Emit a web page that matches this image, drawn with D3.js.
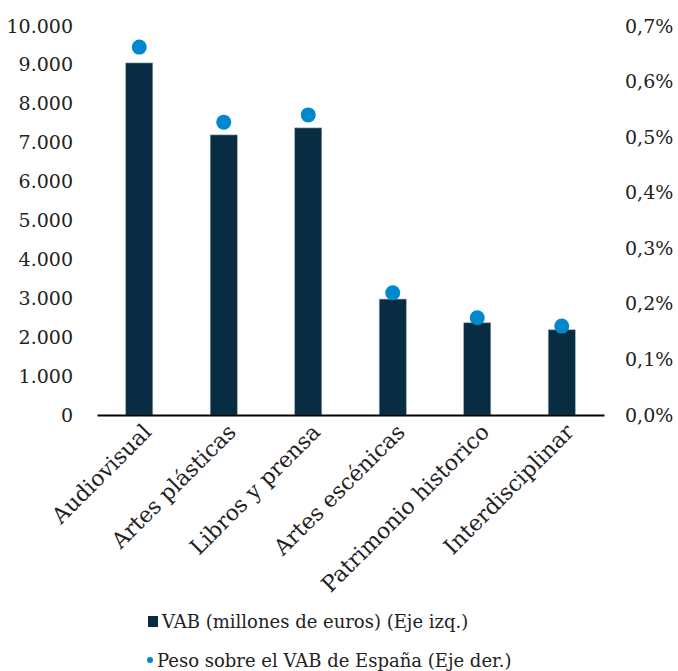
<!DOCTYPE html>
<html>
<head>
<meta charset="utf-8">
<script src="https://cdn.jsdelivr.net/npm/d3@7"></script>
<style>
  body { margin: 0; background: #fff; }
  text { font-family: "DejaVu Serif", serif; fill: #222; }
</style>
</head>
<body>
<div id="chart"></div>
<script>
const categories = ["Audiovisual", "Artes plásticas", "Libros y prensa", "Artes escénicas", "Patrimonio historico", "Interdisciplinar"];
const vab = [9050, 7200, 7380, 2980, 2370, 2190];
const peso = [0.662, 0.527, 0.540, 0.220, 0.175, 0.160];
const leftTicks = [0, 1000, 2000, 3000, 4000, 5000, 6000, 7000, 8000, 9000, 10000];
const rightTicks = [0, 0.1, 0.2, 0.3, 0.4, 0.5, 0.6, 0.7];
const legendLabels = ["VAB (millones de euros) (Eje izq.)", "Peso sobre el VAB de España (Eje der.)"];

const W = 678, H = 671;
const margin = { top: 26, right: 74, bottom: 256, left: 97 };
const width = W - margin.left - margin.right;
const height = H - margin.top - margin.bottom;

const svg = d3.select("#chart").append("svg")
  .attr("width", W).attr("height", H);
const g = svg.append("g").attr("transform", `translate(${margin.left},${margin.top})`);

const x = d3.scaleBand().domain(categories).range([0, width]).paddingInner(0.68).paddingOuter(0.34);
const y = d3.scaleLinear().domain([0, 10000]).range([height, 0]);
const y2 = d3.scaleLinear().domain([0, 0.7]).range([height, 0]);

const fmtL = d => d3.format(",")(d).replace(/,/g, ".");
const fmtR = d => d3.format(".1f")(d).replace(".", ",") + "%";

// left axis
const ax = g.append("g").call(d3.axisLeft(y).tickValues(leftTicks).tickFormat(fmtL).tickSize(0).tickPadding(24));
ax.select(".domain").remove();
ax.selectAll("text").style("font-size", "19px");

// right axis
const ax2 = g.append("g").attr("transform", `translate(${width},0)`)
  .call(d3.axisRight(y2).tickValues(rightTicks).tickFormat(fmtR).tickSize(0).tickPadding(21));
ax2.select(".domain").remove();
ax2.selectAll("text").style("font-size", "19px");

// bars
g.selectAll("rect.bar").data(vab).enter().append("rect")
  .attr("class", "bar")
  .attr("x", (d, i) => x(categories[i]))
  .attr("y", d => y(d))
  .attr("width", x.bandwidth())
  .attr("height", d => height - y(d))
  .attr("fill", "#082d42")
  .attr("stroke", "#8fa3ad").attr("stroke-width", 0.6);

// x axis
const xa = g.append("g").attr("transform", `translate(0,${height})`)
  .call(d3.axisBottom(x).tickSize(0).tickPadding(10));
xa.select(".domain").attr("stroke", "#000").attr("stroke-width", 2);
xa.selectAll("text")
  .style("font-size", "22px")
  .attr("text-anchor", "end")
  .attr("dy", "0.6em")
  .attr("transform", "translate(-3,2) rotate(-45)");

// dots
g.selectAll("circle.dot").data(peso).enter().append("circle")
  .attr("class", "dot")
  .attr("cx", (d, i) => x(categories[i]) + x.bandwidth() / 2)
  .attr("cy", d => y2(d))
  .attr("r", 7.5)
  .attr("fill", "#0088ce");

// legend
const lg = svg.append("g");
lg.append("rect").attr("x", 148).attr("y", 616).attr("width", 10).attr("height", 11).attr("fill", "#082d42");
lg.append("text").attr("x", 162).attr("y", 628).style("font-size", "18px").text(legendLabels[0]);
lg.append("circle").attr("cx", 150).attr("cy", 660).attr("r", 3).attr("fill", "#0088ce");
lg.append("text").attr("x", 157).attr("y", 667).style("font-size", "18px").text(legendLabels[1]);
</script>
</body>
</html>
